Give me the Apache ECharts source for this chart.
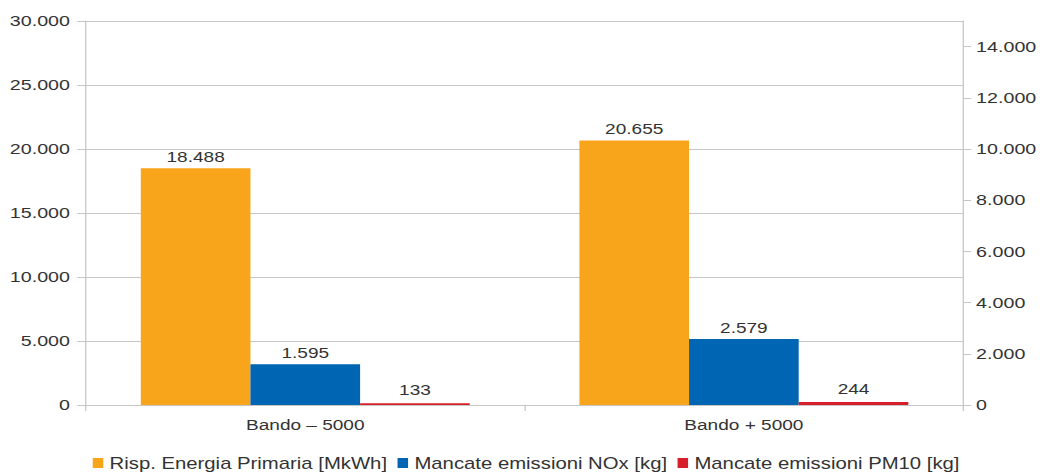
<!DOCTYPE html>
<html>
<head>
<meta charset="utf-8">
<script src="https://cdn.jsdelivr.net/npm/echarts@6/dist/echarts.min.js"></script>
<style>
  html, body { margin: 0; padding: 0; background: #fff; overflow: hidden; }
  /* The chart is laid out narrower and widened horizontally, giving the wide lettering */
  #chart { width: 819px; height: 472px; transform: scaleX(1.27); transform-origin: 0 0; }
</style>
</head>
<body>
<div id="chart"></div>
<script>
// Categories and series values
const categories = ['Bando – 5000', 'Bando + 5000'];
const seriesNames = [
  'Risp. Energia Primaria [MkWh]',
  'Mancate emissioni NOx [kg]',
  'Mancate emissioni PM10 [kg]'
];
const energia = [18488, 20655];
const nox = [1595, 2579];
const pm10 = [133, 244];

// Axis ticks
const leftTicks = [0, 5000, 10000, 15000, 20000, 25000, 30000];
const rightTicks = [0, 2000, 4000, 6000, 8000, 10000, 12000, 14000];

const colors = ['#f8a51c', '#0066b3', '#d71f29'];
const FONT = '"Liberation Sans", Arial, sans-serif';
const TXT = '#333333';
const GRIDC = '#c6c6c6';

// Italian thousands separator
const fmt = v => String(Math.round(v)).replace(/\B(?=(\d{3})+(?!\d))/g, '.');

const chart = echarts.init(document.getElementById('chart'), null, { renderer: 'svg' });

const labelCfg = {
  show: true,
  position: 'top',
  distance: 4,
  color: TXT,
  fontFamily: FONT,
  fontSize: 15,
  formatter: p => fmt(p.value)
};

chart.setOption({
  animation: false,
  textStyle: { fontFamily: FONT },
  grid: { left: 67.7, right: 59.8, top: 21, bottom: 67, containLabel: false },
  legend: {
    bottom: -4,
    left: 68,
    itemWidth: 8.3,
    itemHeight: 10,
    itemGap: 8,
    icon: 'rect',
    textStyle: { color: TXT, fontFamily: FONT, fontSize: 16, padding: [0, 0, 0, 0] },
    data: seriesNames
  },
  xAxis: {
    type: 'category',
    data: categories,
    axisLine: { show: true, lineStyle: { color: GRIDC, width: 1 } },
    axisTick: { show: true, length: 6, lineStyle: { color: GRIDC } },
    axisLabel: { color: TXT, fontFamily: FONT, fontSize: 15, margin: 12 },
    splitLine: { show: false }
  },
  yAxis: [
    {
      type: 'value',
      position: 'left',
      min: leftTicks[0],
      max: leftTicks[leftTicks.length - 1],
      interval: 5000,
      axisLine: { show: true, lineStyle: { color: GRIDC } },
      axisTick: { show: true, length: 7, lineStyle: { color: GRIDC } },
      axisLabel: { color: TXT, fontFamily: FONT, fontSize: 15.5, margin: 12.6, formatter: fmt },
      splitLine: { show: true, lineStyle: { color: GRIDC, width: 1 } }
    },
    {
      type: 'value',
      position: 'right',
      min: 0,
      max: 15000,
      interval: 2000,
      axisLine: { show: true, lineStyle: { color: GRIDC } },
      axisTick: { show: true, length: 6.3, customValues: rightTicks, lineStyle: { color: GRIDC } },
      axisLabel: { color: TXT, fontFamily: FONT, fontSize: 15.5, margin: 10.2, customValues: rightTicks, formatter: fmt },
      splitLine: { show: false }
    }
  ],
  series: [
    {
      name: seriesNames[0], type: 'bar', yAxisIndex: 0, data: energia,
      itemStyle: { color: colors[0] }, barGap: '0%', barCategoryGap: '25%', label: labelCfg
    },
    {
      name: seriesNames[1], type: 'bar', yAxisIndex: 1, data: nox,
      itemStyle: { color: colors[1] }, barGap: '0%', barCategoryGap: '25%', label: labelCfg
    },
    {
      // PM10 is read against the left axis
      name: seriesNames[2], type: 'bar', yAxisIndex: 0, data: pm10,
      itemStyle: { color: colors[2] }, barGap: '0%', barCategoryGap: '25%',
      label: Object.assign({}, labelCfg, { distance: 6 })
    }
  ]
});
</script>
</body>
</html>
